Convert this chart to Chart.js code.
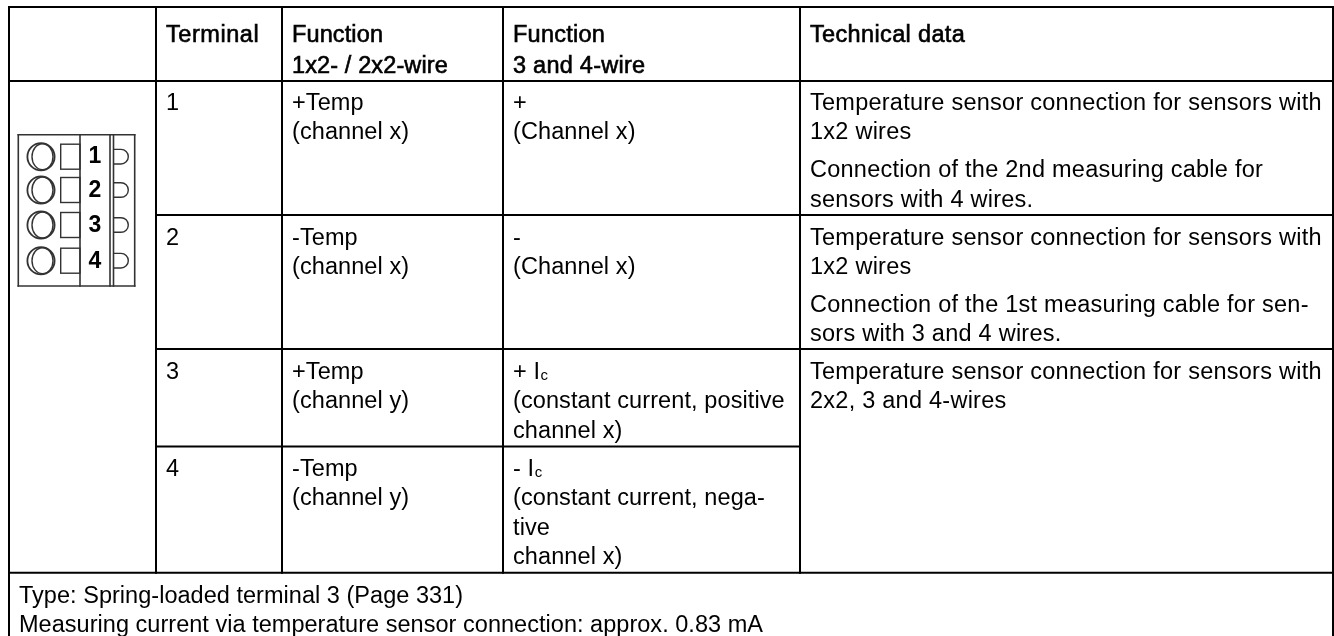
<!DOCTYPE html>
<html>
<head>
<meta charset="utf-8">
<title>Terminal assignment</title>
<script src="https://cdn.jsdelivr.net/npm/chart.js@4"></script>
<style>
  html, body { margin: 0; padding: 0; background: #fff; }
  canvas { display: block; }
</style>
</head>
<body>
<canvas id="table" width="1334" height="636"></canvas>
<script>
// table text, one list per column ("_c" is the subscript of I)
var headers = [
  ['Terminal'],
  ['Function', '1x2- / 2x2-wire'],
  ['Function', '3 and 4-wire'],
  ['Technical data']
];
var terminals = ['1', '2', '3', '4'];
var function2Wire = [
  ['+Temp', '(channel x)'],
  ['-Temp', '(channel x)'],
  ['+Temp', '(channel y)'],
  ['-Temp', '(channel y)']
];
var function34Wire = [
  ['+', '(Channel x)'],
  ['-', '(Channel x)'],
  ['+ I_c', '(constant current, positive', 'channel x)'],
  ['- I_c', '(constant current, nega-', 'tive', 'channel x)']
];
var technicalData = [
  [['Temperature sensor connection for sensors with', '1x2 wires'],
   ['Connection of the 2nd measuring cable for', 'sensors with 4 wires.']],
  [['Temperature sensor connection for sensors with', '1x2 wires'],
   ['Connection of the 1st measuring cable for sen-', 'sors with 3 and 4 wires.']],
  [['Temperature sensor connection for sensors with', '2x2, 3 and 4-wires']]
];
var notes = [
  'Type: Spring-loaded terminal 3 (Page 331)',
  'Measuring current via temperature sensor connection: approx. 0.83 mA'
];

// table grid, in axis units
var columnEdges = [9, 156, 282, 503, 800, 1333];
var rowEdges = [7, 81, 215, 349, 446.5, 572.7, 636];
var rowBaselines = [110, 244.5, 379, 476];
var noteBaselines = [603, 632];

// connector drawing in the first column
var plugRows = [156.7, 190, 225, 260.7];
var plugDigitBaselines = [163, 197, 232, 268];

var INK = '#000';
var ICON = '#333';
var FONT = '23.5px "Liberation Sans", Arial, sans-serif';

function rule(x1, y1, x2, y2, color, width) {
  return {
    type: 'line',
    data: [{x: x1, y: y1}, {x: x2, y: y2}],
    borderColor: color || '#000',
    borderWidth: width || 2,
    borderCapStyle: 'square',
    pointRadius: 0,
    clip: false
  };
}

var datasets = [];
var L = columnEdges[0], R = columnEdges[5];

// horizontal rules
datasets.push(rule(L, rowEdges[0], R, rowEdges[0]));
datasets.push(rule(L, rowEdges[1], R, rowEdges[1]));
datasets.push(rule(columnEdges[1], rowEdges[2], R, rowEdges[2]));
datasets.push(rule(columnEdges[1], rowEdges[3], R, rowEdges[3]));
datasets.push(rule(columnEdges[1], rowEdges[4], columnEdges[4], rowEdges[4]));
datasets.push(rule(L, rowEdges[5], R, rowEdges[5]));

// vertical rules
for (var i = 1; i < columnEdges.length - 1; i++) {
  datasets.push(rule(columnEdges[i], rowEdges[0], columnEdges[i], rowEdges[5]));
}
datasets.push(rule(L, rowEdges[0], L, rowEdges[6]));
datasets.push(rule(R, rowEdges[0], R, rowEdges[6]));

// connector frame
var frameL = 18.3, frameR = 134.7, frameT = 134.7, frameB = 286;
datasets.push(rule(frameL, frameT, frameR, frameT, ICON, 1.6));
datasets.push(rule(frameL, frameB, frameR, frameB, ICON, 1.6));
datasets.push(rule(frameL, frameT, frameL, frameB, ICON, 1.6));
datasets.push(rule(frameR, frameT, frameR, frameB, ICON, 1.6));
datasets.push(rule(80, frameT, 80, frameB, ICON, 1.6));
datasets.push(rule(110, frameT, 110, frameB, ICON, 1.6));
datasets.push(rule(113.5, frameT, 113.5, frameB, ICON, 1.6));

// round openings of the connector
datasets.push({
  type: 'scatter',
  data: plugRows.map(function(y) { return {x: 41, y: y}; }),
  pointStyle: 'circle',
  pointRadius: 13.6,
  pointBorderWidth: 1.8,
  pointBorderColor: ICON,
  pointBackgroundColor: 'rgba(0,0,0,0)',
  clip: false
});

function drawLine(ctx, text, px, py, bold, spacing) {
  var parts = text.split('_');
  ctx.font = FONT;
  ctx.letterSpacing = (spacing || 0) + 'px';
  ctx.fillText(parts[0], px, py);
  if (bold) {
    ctx.strokeText(parts[0], px, py);
  }
  if (parts[1]) {
    var w = ctx.measureText(parts[0]).width;
    ctx.font = '15px "Liberation Sans", Arial, sans-serif';
    ctx.fillText(parts[1], px + w + 0.5, py + 0.5);
    ctx.font = FONT;
  }
  ctx.letterSpacing = '0px';
}

var tableText = {
  id: 'tableText',
  afterDatasetsDraw: function(chart) {
    var ctx = chart.ctx;
    var x = chart.scales.x;
    var y = chart.scales.y;
    var lineStep = 29.4;
    var inset = 10;
    var headerSpacing = [0.55, 0.12, 0.25, 0.35];

    function put(text, cx, cy, bold, spacing) {
      drawLine(ctx, text, x.getPixelForValue(cx), y.getPixelForValue(cy), bold, spacing);
    }

    ctx.save();
    ctx.fillStyle = INK;
    ctx.strokeStyle = INK;
    ctx.lineWidth = 0.6;
    ctx.textBaseline = 'alphabetic';
    ctx.textAlign = 'left';

    // header
    headers.forEach(function(lines, c) {
      lines.forEach(function(text, n) {
        put(text, columnEdges[c + 1] + inset, 41.5 + n * 31.5, true, headerSpacing[c]);
      });
    });

    // body rows
    terminals.forEach(function(t, r) {
      var base = rowBaselines[r];
      put(t, columnEdges[1] + inset, base);
      function2Wire[r].forEach(function(text, n) {
        put(text, columnEdges[2] + inset, base + n * lineStep, false, 0.08);
      });
      function34Wire[r].forEach(function(text, n) {
        put(text, columnEdges[3] + inset, base + n * lineStep, false, 0.1);
      });
    });

    // technical data, paragraphs have a small gap between them
    technicalData.forEach(function(paragraphs, r) {
      var at = rowBaselines[r];
      paragraphs.forEach(function(lines) {
        lines.forEach(function(text) {
          put(text, columnEdges[4] + inset, at, false, 0.25);
          at += lineStep;
        });
        at += 8.6;
      });
    });

    notes.forEach(function(text, n) {
      put(text, L + inset, noteBaselines[n], false, 0.03);
    });

    // connector details
    ctx.strokeStyle = ICON;
    ctx.lineWidth = 1.4;
    plugRows.forEach(function(row, n) {
      var cx = x.getPixelForValue(42.5);
      var cy = y.getPixelForValue(row);
      ctx.beginPath();
      ctx.ellipse(cx, cy, 10.5, 13, 0, 0, Math.PI * 2);
      ctx.stroke();

      // square opening
      var sq = x.getPixelForValue(60.7);
      ctx.strokeRect(sq, cy - 12.5, x.getPixelForValue(80) - sq, 25);

      // latch
      var d = x.getPixelForValue(113.5);
      ctx.beginPath();
      ctx.moveTo(d, cy - 7.3);
      ctx.lineTo(d + 7.5, cy - 7.3);
      ctx.arc(d + 7.5, cy, 7.3, -Math.PI / 2, Math.PI / 2);
      ctx.lineTo(d, cy + 7.3);
      ctx.stroke();

      ctx.font = 'bold 23px "Liberation Sans", Arial, sans-serif';
      ctx.textAlign = 'center';
      ctx.fillStyle = INK;
      ctx.fillText(terminals[n], x.getPixelForValue(95), y.getPixelForValue(plugDigitBaselines[n]));
      ctx.textAlign = 'left';
    });
    ctx.restore();
  }
};

var ctx = document.getElementById('table').getContext('2d');
new Chart(ctx, {
  data: { datasets: datasets },
  options: {
    responsive: false,
    animation: false,
    layout: { padding: 0, autoPadding: false },
    scales: {
      x: { type: 'linear', min: 0, max: 1334, display: false },
      y: { type: 'linear', min: 0, max: 636, reverse: true, display: false }
    },
    plugins: {
      legend: { display: false },
      title: { display: false },
      tooltip: { enabled: false }
    }
  },
  plugins: [tableText]
});
</script>
</body>
</html>
